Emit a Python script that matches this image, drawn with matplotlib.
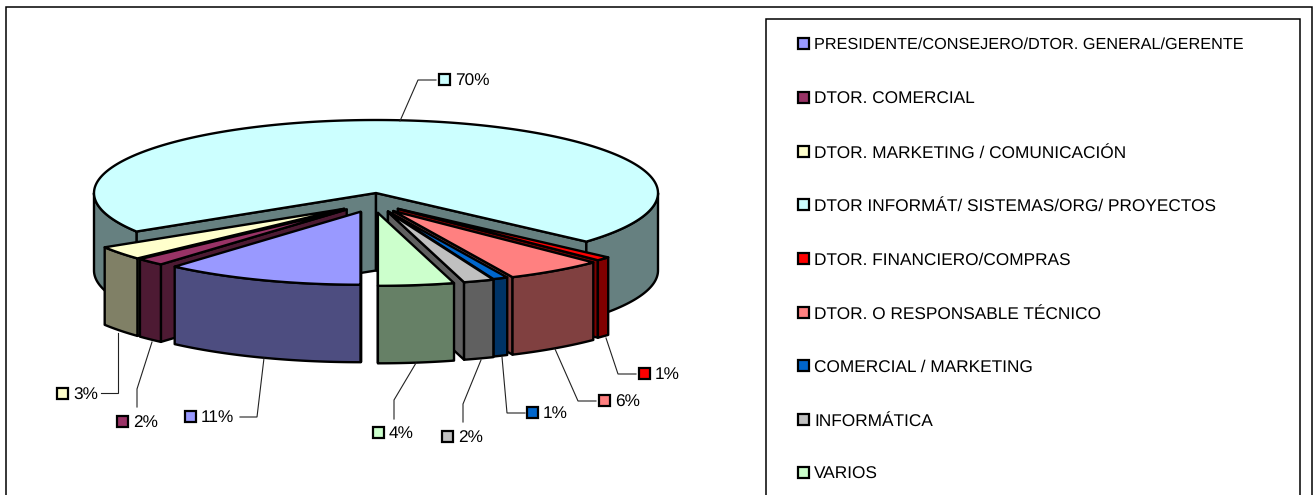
import numpy as np
import matplotlib
matplotlib.use('Agg')
import matplotlib.pyplot as plt
from matplotlib.patches import Polygon, Rectangle

plt.rcParams['font.family'] = ['Liberation Sans', 'DejaVu Sans']
plt.rcParams['text.hinting'] = 'none'

categories = ['PRESIDENTE/CONSEJERO/DTOR. GENERAL/GERENTE', 'DTOR. COMERCIAL',
              'DTOR. MARKETING / COMUNICACIÓN', 'DTOR INFORMÁT/ SISTEMAS/ORG/ PROYECTOS',
              'DTOR. FINANCIERO/COMPRAS', 'DTOR. O RESPONSABLE TÉCNICO',
              'COMERCIAL / MARKETING', 'INFORMÁTICA', 'VARIOS']
values = [11.45, 1.65, 3.05, 70.45, 0.85, 5.6, 0.85, 1.75, 4.35]
colors = ['#9999FF', '#993366', '#FFFFCC', '#CCFFFF', '#FF0000',
          '#FF8080', '#0066CC', '#C0C0C0', '#CCFFCC']

# explosion of each slice along its middle angle, in pixels
explode_x = [44, 42, 40, 0, 30, 30, 30, 37, 14]
explode_y = [20, 23, 26, 0, 23, 22, 20, 20, 20]

# label box position and the leader line going back to the slice
label_pos = [(185, 411), (117, 416), (57, 388), (439, 74), (639, 368),
             (599, 395), (527, 407), (442, 431), (373, 427)]
leaders = [[(240, 417), (257, 417), (264, 358)],
           [(137, 407), (137, 389), (152, 342)],
           [(101, 393), (118, 393), (118, 333)],
           [(436, 80), (418, 80), (400, 121)],
           [(636, 374), (618, 374), (606, 338)],
           [(596, 401), (578, 401), (555, 349)],
           [(525, 413), (507, 413), (502, 357)],
           [(463, 422), (463, 404), (481, 360)],
           [(394, 419), (394, 400), (416, 363)]]

cx, cy = 376, 193
rx, ry = 282, 73
depth = 77.5
lw = 1.7
font_size = 12.45
# the first legend entry is squeezed in the original
legend_sizes = [11.68] + [font_size] * 8


def arc(x0, y0, a, b, n=120):
    t = np.radians(np.linspace(a, b, n))
    return np.column_stack([x0 + rx * np.sin(t), y0 - ry * np.cos(t)])


def shade(c):
    rgb = np.array(matplotlib.colors.to_rgb(c))
    return tuple(rgb * 0.5)


def poly(ax, pts, c):
    ax.add_patch(Polygon(pts, closed=True, facecolor=c, edgecolor='black',
                         linewidth=lw, joinstyle='round'))


def draw_slice(ax, a, b, c, ox, oy):
    x0, y0 = cx + ox, cy + oy
    dark = shade(c)
    # cut faces, only those turned towards the viewer
    if b - a > 180:
        faces = (a, b)
    elif np.sin(np.radians((a + b) / 2)) < 0:
        faces = (a,)
    else:
        faces = (b,)
    for t in faces:
        p = arc(x0, y0, t, t, 1)[0]
        poly(ax, [(x0, y0), p, (p[0], p[1] + depth), (x0, y0 + depth)], dark)
    # outer wall, only the part facing the viewer
    for k in (0, 1):
        lo, hi = max(a, 90 + 360 * k), min(b, 270 + 360 * k)
        if hi > lo:
            top = arc(x0, y0, lo, hi)
            bottom = top[::-1] + [0, depth]
            poly(ax, np.vstack([top, bottom]), dark)
    # top face
    poly(ax, np.vstack([[(x0, y0)], arc(x0, y0, a, b, 300)]), c)


fig = plt.figure(figsize=(13.13, 4.95), dpi=100)
ax = fig.add_axes([0, 0, 1, 1])
ax.set_xlim(0, 1313)
ax.set_ylim(495, 0)
ax.axis('off')

# outer frame and legend box, both run off the bottom edge
ax.add_patch(Rectangle((5.5, 7), 1306.5, 500, facecolor='white', edgecolor='black', linewidth=1.1))
ax.add_patch(Rectangle((766, 19), 534, 490, facecolor='white', edgecolor='black', linewidth=1.1))

# slice angles, clockwise from the top, starting at the bottom of the pie
edges = 180 + np.concatenate([[0], np.cumsum(values)]) * 3.6
order = [3, 2, 1, 0, 4, 5, 6, 7, 8]  # back to front
for i in order:
    mid = np.radians((edges[i] + edges[i + 1]) / 2)
    ox = explode_x[i] * np.sin(mid)
    oy = -explode_y[i] * np.cos(mid)
    draw_slice(ax, edges[i], edges[i + 1], colors[i], ox, oy)

# data labels
for i in range(len(values)):
    xs, ys = zip(*leaders[i])
    ax.plot(xs, ys, color='#222222', linewidth=0.8, solid_joinstyle='miter')
    x, y = label_pos[i]
    ax.add_patch(Rectangle((x, y), 11, 11, facecolor=colors[i], edgecolor='black', linewidth=1.6))
    ax.text(x + 16, y + 7, f'{values[i]:.0f}%', fontsize=font_size, va='center', ha='left', color='black')

# legend
legend_y = [44, 98, 152, 205, 259, 313, 366, 420, 473]
for name, c, y, size in zip(categories, colors, legend_y, legend_sizes):
    ax.add_patch(Rectangle((798, y - 6), 11, 11, facecolor=c, edgecolor='black', linewidth=1.6))
    ax.text(814, y + 1, name, fontsize=size, va='center', ha='left', color='black')

fig.savefig('out.png', dpi=100)
